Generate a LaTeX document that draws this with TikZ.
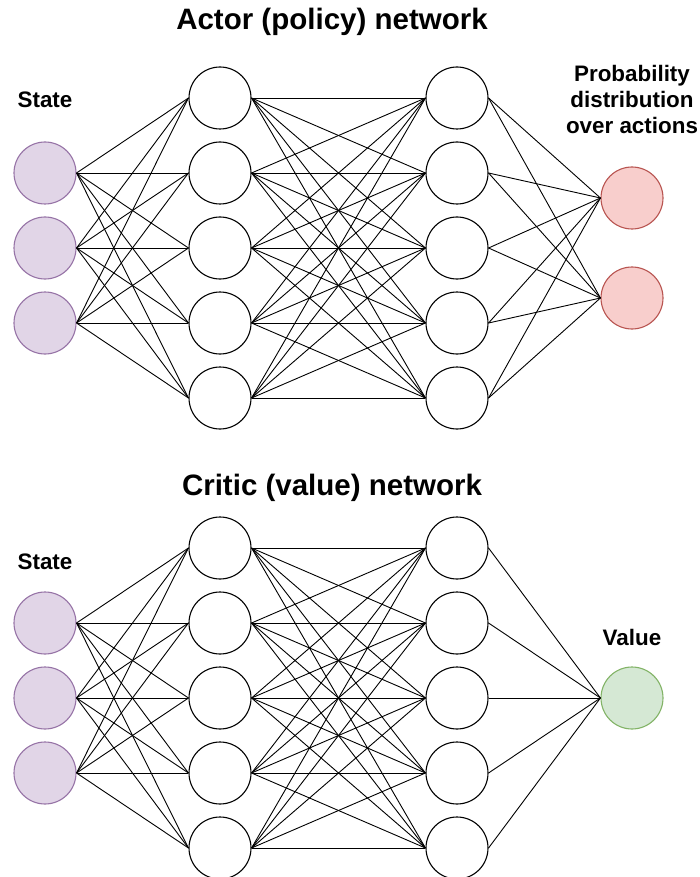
\documentclass[tikz,border=0pt]{standalone}
\usepackage{fontspec}
\setmainfont{Liberation Sans}
\usepackage{xcolor}
\usepackage{tikz}
\usetikzlibrary{positioning}

\definecolor{statefill}{HTML}{E1D5E7}
\definecolor{statedraw}{HTML}{9673A6}
\definecolor{actfill}{HTML}{F8CECC}
\definecolor{actdraw}{HTML}{B85450}
\definecolor{valfill}{HTML}{D5E8D4}
\definecolor{valdraw}{HTML}{82B366}

\begin{document}
\begin{tikzpicture}[
    x=1pt, y=-1pt,
    neuron/.style={circle, draw=black, fill=white, line width=1.1pt, minimum size=62pt, inner sep=0pt},
    statein/.style={neuron, draw=statedraw, fill=statefill},
    actout/.style={neuron, draw=actdraw, fill=actfill},
    valout/.style={neuron, draw=valdraw, fill=valfill},
    heading/.style={font=\bfseries\fontsize{29.5}{34}\selectfont},
    label/.style={font=\bfseries\fontsize{22.4}{26}\selectfont, align=center},
    wire/.style={line width=0.9pt}
]
\useasboundingbox (0,0) rectangle (699,877);

% actor network
\node[heading] (atitle) at (332,22) {Actor (policy) network};
\node[label] (astate) at (45,100) {State};
\node[label] (aprob) at (632,99) {Probability\\distribution\\over actions};

\foreach \i/\y in {1/173,2/248,3/323}
    \node[statein] (ain\i) at (45,\y) {};
\foreach \j/\y in {1/98,2/173,3/248,4/323,5/398} {
    \node[neuron] (ahA\j) at (220,\y) {};
    \node[neuron] (ahB\j) at (457,\y) {};
}
\foreach \k/\y in {1/198,2/298}
    \node[actout] (aout\k) at (632,\y) {};

\foreach \i in {1,2,3}
    \foreach \j in {1,...,5}
        \draw[wire] (ain\i.east) -- (ahA\j.west);
\foreach \i in {1,...,5}
    \foreach \j in {1,...,5}
        \draw[wire] (ahA\i.east) -- (ahB\j.west);
\foreach \i in {1,...,5}
    \foreach \k in {1,2}
        \draw[wire] (ahB\i.east) -- (aout\k.west);

% critic network
\node[heading] (ctitle) at (332,488) {Critic (value) network};
\node[label] (cstate) at (45,562) {State};
\node[label] (cvalue) at (632,637) {Value};

\foreach \i/\y in {1/623,2/698,3/773}
    \node[statein] (cin\i) at (45,\y) {};
\foreach \j/\y in {1/548,2/623,3/698,4/773,5/848} {
    \node[neuron] (chA\j) at (220,\y) {};
    \node[neuron] (chB\j) at (457,\y) {};
}
\node[valout] (cout) at (632,698) {};

\foreach \i in {1,2,3}
    \foreach \j in {1,...,5}
        \draw[wire] (cin\i.east) -- (chA\j.west);
\foreach \i in {1,...,5}
    \foreach \j in {1,...,5}
        \draw[wire] (chA\i.east) -- (chB\j.west);
\foreach \i in {1,...,5}
    \draw[wire] (chB\i.east) -- (cout.west);

\end{tikzpicture}
\end{document}
